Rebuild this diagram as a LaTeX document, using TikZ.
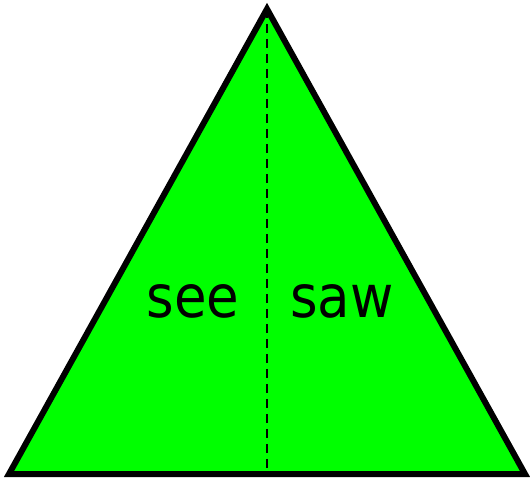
\documentclass[tikz,border=0pt]{standalone}
\usepackage{fontspec}
\setmainfont{DejaVu Sans Condensed}
\usepackage{tikz}
\usetikzlibrary{positioning}

\begin{document}
\begin{tikzpicture}[
      x=0.02cm, y=-0.02cm,
      hull/.style={draw=black, fill={rgb,255:red,0;green,255;blue,0}, line width=0.12cm, line join=miter},
      divider/.style={draw=black, line width=0.05cm, dash pattern=on 0.18cm off 0.12cm},
      word/.style={font=\fontsize{33.5}{40}\selectfont, anchor=base, inner sep=0pt}
    ]
    \useasboundingbox (0,0) rectangle (530,480);
    \coordinate (apex) at (267,9);
    \coordinate (baseL) at (9,474);
    \coordinate (baseR) at (525,474);
    \coordinate (baseM) at (267,474);

    \draw[hull] (apex) -- (baseR) -- (baseL) -- cycle;
    \draw[divider] (apex) -- (baseM);

    \node[word] (see) at (193,317) {see};
    \node[word] (saw) at (342,317) {saw};
  \end{tikzpicture}
\end{document}
